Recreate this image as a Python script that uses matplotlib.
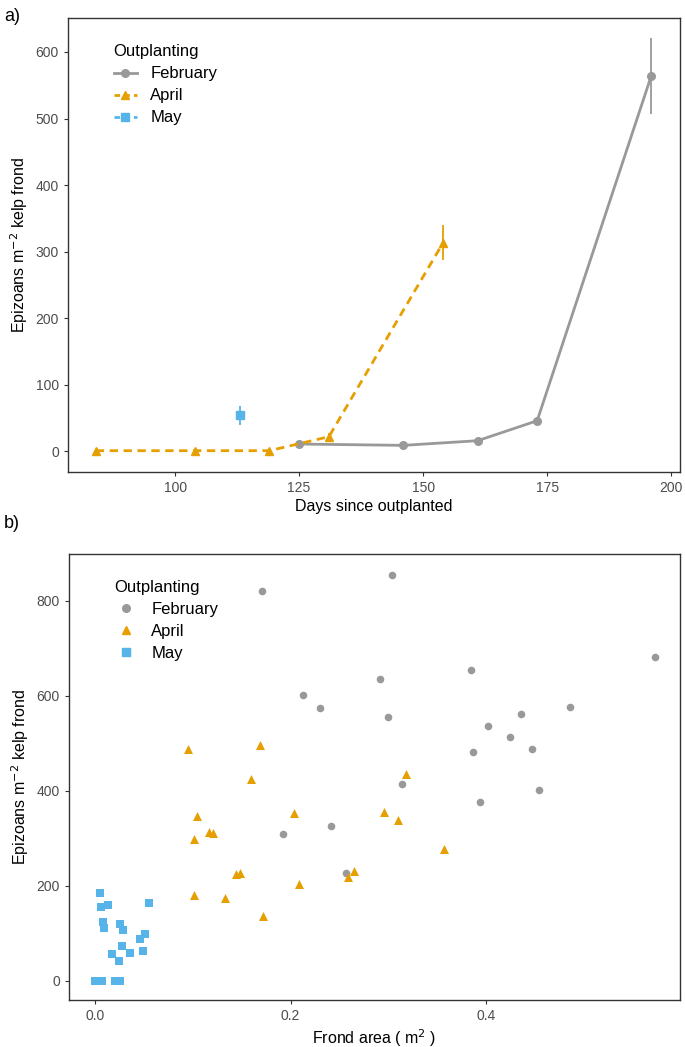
import matplotlib
matplotlib.use("Agg")
import matplotlib.pyplot as plt
from matplotlib.lines import Line2D

plt.rcParams['font.family'] = ['Liberation Sans', 'DejaVu Sans']

grey = '#999999'
orange = '#E69F00'
blue = '#56B4E9'

# panel a: mean epizoan density over time
feb_days = [125, 146, 161, 173, 196]
feb_mean = [11, 9, 16, 46, 564]
feb_lo = [9, 7, 13, 41, 507]
feb_hi = [13, 11, 19, 51, 621]

apr_days = [84, 104, 119, 131, 154]
apr_mean = [1, 1, 1, 22, 313]
apr_lo = [0, 0, 0, 17, 287]
apr_hi = [2, 2, 2, 27, 340]

may_days = [113]
may_mean = [54]
may_lo = [40]
may_hi = [68]

# panel b: individual fronds
feb_area = [0.171, 0.2125, 0.2295, 0.3035, 0.291, 0.3847, 0.572, 0.299, 0.4856, 0.435,
            0.402, 0.424, 0.3867, 0.4467, 0.314, 0.4535, 0.394, 0.192, 0.2408, 0.2565]
feb_epi = [821, 601, 573, 854, 635, 653, 681, 554, 577, 561,
           535, 512, 482, 488, 413, 401, 375, 308, 326, 227]

apr_area = [0.0955, 0.169, 0.318, 0.2957, 0.310, 0.3567, 0.159, 0.1043, 0.2036, 0.1163,
            0.1207, 0.1016, 0.1446, 0.1483, 0.2643, 0.259, 0.2083, 0.1016, 0.1333, 0.172]
apr_epi = [487, 495, 434, 356, 338, 278, 425, 347, 352, 312,
           310, 299, 224, 226, 230, 219, 204, 180, 175, 136]

may_area = [0.0054, 0.0065, 0.013, 0.0552, 0.0082, 0.0092, 0.0256, 0.0286, 0.0512, 0.0457,
            0.0273, 0.0177, 0.0355, 0.0488, 0.0246, 0.0005, 0.0035, 0.0068, 0.0208, 0.0256]
may_epi = [185, 156, 159, 164, 123, 110, 119, 106, 99, 88,
           74, 57, 58, 62, 41, 0, 0, 0, 0, 0]

fig = plt.figure(figsize=(6.85, 10.47), dpi=100)
ax1 = fig.add_axes([0.0993, 0.5492, 0.8934, 0.4336])
ax2 = fig.add_axes([0.1007, 0.0449, 0.8920, 0.4260])

def err(ax, x, lo, hi, c):
    ax.vlines(x, lo, hi, color=c, lw=1.3, zorder=2)

err(ax1, feb_days, feb_lo, feb_hi, grey)
err(ax1, apr_days, apr_lo, apr_hi, orange)
err(ax1, may_days, may_lo, may_hi, blue)
ax1.plot(feb_days, feb_mean, color=grey, lw=2, marker='o', ms=5.5, ls='-', zorder=3)
ax1.plot(apr_days, apr_mean, color=orange, lw=2, marker='^', ms=6, ls=(0, (3, 2)), zorder=3)
ax1.plot(may_days, may_mean, color=blue, lw=2, marker='s', ms=5.5, ls=(0, (3, 2)), zorder=3)

ax1.set_xlim(78.4, 201.8)
ax1.set_ylim(-31, 651)
ax1.set_xticks([100, 125, 150, 175, 200])
ax1.set_yticks([0, 100, 200, 300, 400, 500, 600])
ax1.set_xlabel('Days since outplanted', fontsize=11.5, labelpad=3)
ax1.set_ylabel('Epizoans m$^{-2}$ kelp frond', fontsize=11.5, labelpad=4)

h1 = [Line2D([], [], color=grey, lw=2, marker='o', ms=5.5, ls='-'),
      Line2D([], [], color=orange, lw=2, marker='^', ms=6, ls=(0, (2, 1.5))),
      Line2D([], [], color=blue, lw=2, marker='s', ms=5.5, ls=(0, (2, 1.5)))]
leg1 = ax1.legend(h1, ['February', 'April', 'May'], title='Outplanting', loc='upper left',
                  bbox_to_anchor=(0.05, 0.975), frameon=False, fontsize=12,
                  title_fontsize=12, handlelength=1.4, handletextpad=0.8,
                  labelspacing=0.42)
leg1._legend_box.align = 'left'

ax2.scatter(feb_area, feb_epi, color=grey, marker='o', s=30, lw=0, zorder=3)
ax2.scatter(apr_area, apr_epi, color=orange, marker='^', s=42, lw=0, zorder=3)
ax2.scatter(may_area, may_epi, color=blue, marker='s', s=30, lw=0, zorder=3)
ax2.set_xlim(-0.0266, 0.598)
ax2.set_ylim(-40.6, 898)
ax2.set_xticks([0.0, 0.2, 0.4])
ax2.set_xticklabels(['0.0', '0.2', '0.4'])
ax2.set_yticks([0, 200, 400, 600, 800])
ax2.set_xlabel('Frond area ( m$^2$ )', fontsize=11.5, labelpad=3)
ax2.set_ylabel('Epizoans m$^{-2}$ kelp frond', fontsize=11.5, labelpad=4)

h2 = [Line2D([], [], color=grey, marker='o', ms=5.5, ls='none'),
      Line2D([], [], color=orange, marker='^', ms=6, ls='none'),
      Line2D([], [], color=blue, marker='s', ms=5.5, ls='none')]
leg2 = ax2.legend(h2, ['February', 'April', 'May'], title='Outplanting', loc='upper left',
                  bbox_to_anchor=(0.05, 0.975), frameon=False, fontsize=12,
                  title_fontsize=12, handlelength=1.4, handletextpad=0.8,
                  labelspacing=0.42)
leg2._legend_box.align = 'left'

for ax in (ax1, ax2):
    for s in ax.spines.values():
        s.set_color('#333333')
        s.set_linewidth(1.0)
    ax.tick_params(direction='out', length=3, width=0.8, color='#333333',
                   labelcolor='#4D4D4D', labelsize=10)

fig.text(0.006, 0.992, 'a)', fontsize=13, va='top', ha='left')
fig.text(0.006, 0.508, 'b)', fontsize=13, va='top', ha='left')

fig.savefig('out.png', dpi=100)
